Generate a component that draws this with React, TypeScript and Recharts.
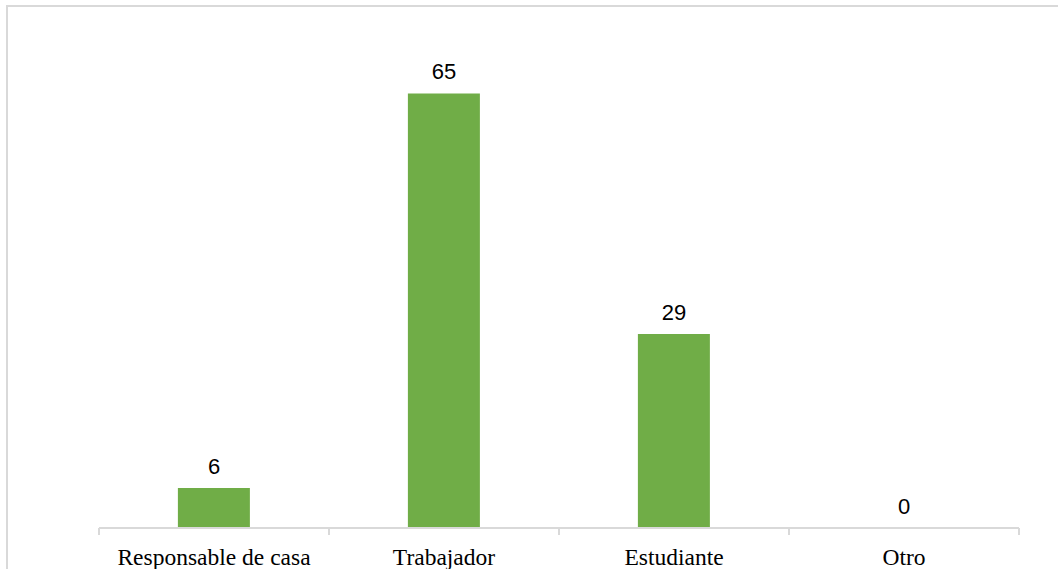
import { ComposedChart, Bar, Line, XAxis, YAxis, LabelList } from 'recharts'

const categories = ['Responsable de casa', 'Trabajador', 'Estudiante', 'Otro']
const values = [6, 65, 29, 0]

const data = categories.map((name, i) => ({ name, value: values[i] }))

const AXIS_GRAY = '#d9d9d9'
const BAR_GREEN = '#70ad47'

// category label + tick marks on the band edges (Excel style)
// eslint-disable-next-line @typescript-eslint/no-explicit-any
const renderTick = (props: any) => {
  const { x, y, payload, index, width } = props
  const half = payload?.offset ? payload.offset : width / categories.length / 2
  const last = index === categories.length - 1
  return (
    <g>
      <line x1={x - half} y1={y} x2={x - half} y2={y + 7} stroke={AXIS_GRAY} strokeWidth={2} />
      {last && <line x1={x + half} y1={y} x2={x + half} y2={y + 7} stroke={AXIS_GRAY} strokeWidth={2} />}
      <text
        x={x}
        y={y + 37}
        textAnchor="middle"
        fill="#000"
        fontSize={23.5}
        fontFamily="'Liberation Serif', 'Times New Roman', serif"
      >
        {payload.value}
      </text>
    </g>
  )
}

export default function App() {
  return (
    <div
      style={{
        position: 'absolute',
        left: 0,
        top: 0,
        width: 1058,
        height: 569,
        overflow: 'hidden',
        background: '#fff',
      }}
    >
      <div
        style={{
          position: 'absolute',
          left: 6,
          top: 5,
          width: 1200,
          height: 700,
          border: `2px solid ${AXIS_GRAY}`,
        }}
      />
      <div style={{ position: 'absolute', left: 0, top: 0 }}>
        <ComposedChart
          width={1058}
          height={569}
          data={data}
          margin={{ top: 60, right: 39, bottom: 1, left: 99 }}
          barCategoryGap="34.3%"
        >
          <XAxis
            dataKey="name"
            height={40}
            tickSize={0}
            tickMargin={0}
            tickLine={false}
            axisLine={{ stroke: AXIS_GRAY, strokeWidth: 2 }}
            tick={renderTick}
            interval={0}
          />
          <YAxis hide domain={[0, 70]} />
          <Bar dataKey="value" fill={BAR_GREEN} isAnimationActive={false} />
          {/* invisible series so the zero value still gets its label */}
          <Line
            dataKey="value"
            stroke="none"
            dot={false}
            activeDot={false}
            isAnimationActive={false}
          >
            <LabelList
              dataKey="value"
              position="top"
              offset={14}
              fill="#000"
              fontSize={22}
              fontFamily="'Liberation Sans', Arial, sans-serif"
            />
          </Line>
        </ComposedChart>
      </div>
    </div>
  )
}
